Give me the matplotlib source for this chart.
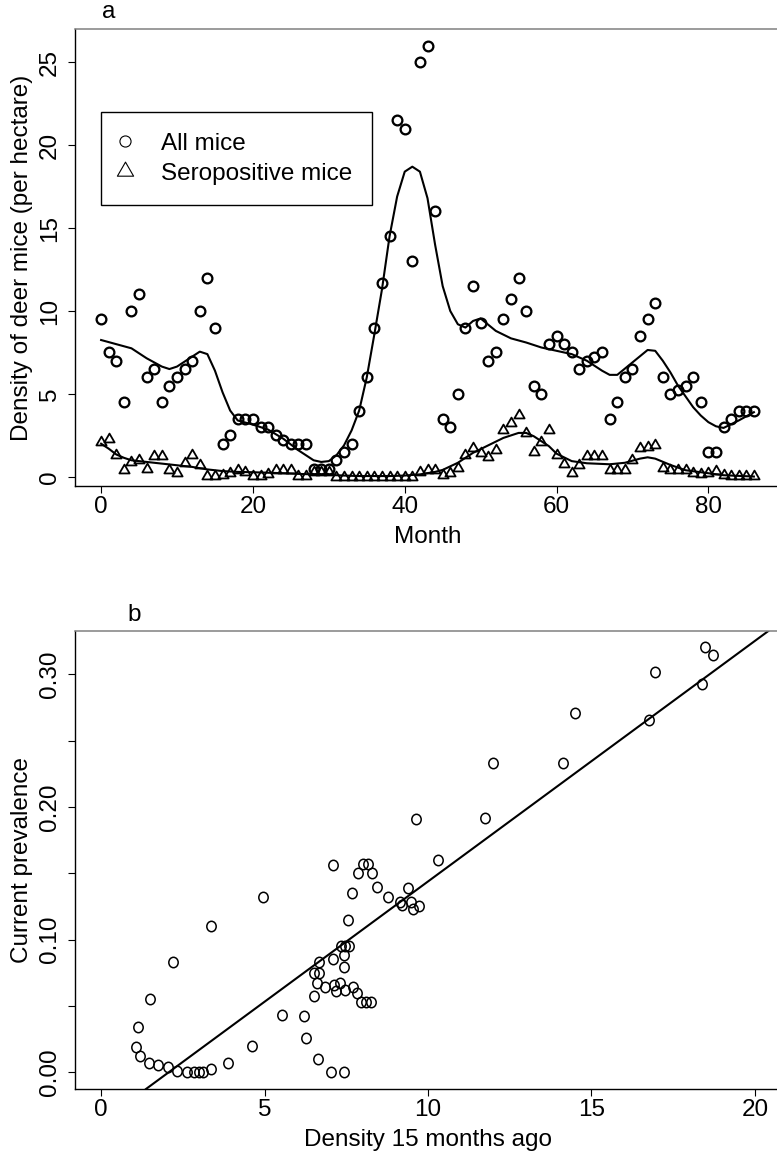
import matplotlib
matplotlib.use('Agg')
import matplotlib.pyplot as plt
from matplotlib.lines import Line2D
from matplotlib.path import Path
from matplotlib.transforms import Affine2D
import numpy as np

plt.rcParams['font.family'] = ['Liberation Sans', 'DejaVu Sans']
FS = 17.5

# ---------------- Panel a data ----------------
months = list(range(87))
all_mice = [9.5, 7.5, 7.0, 4.5, 10.0, 11.0, 6.0, 6.5, 4.5, 5.5,
            6.0, 6.5, 7.0, 10.0, 12.0, 9.0, 2.0, 2.5, 3.5, 3.5,
            3.5, 3.0, 3.0, 2.5, 2.2, 2.0, 2.0, 2.0, 0.5, 0.5,
            0.5, 1.0, 1.5, 2.0, 4.0, 6.0, 9.0, 11.7, 14.5, 21.5,
            21.0, 13.0, 25.0, 26.0, 16.0, 3.5, 3.0, 5.0, 9.0, 11.5,
            9.25, 7.0, 7.5, 9.5, 10.75, 12.0, 10.0, 5.5, 5.0, 8.0,
            8.5, 8.0, 7.5, 6.5, 7.0, 7.25, 7.5, 3.5, 4.5, 6.0,
            6.5, 8.5, 9.5, 10.5, 6.0, 5.0, 5.25, 5.5, 6.0, 4.5,
            1.5, 1.5, 3.0, 3.5, 4.0, 4.0, 4.0]
seropositive = [2.1, 2.3, 1.33, 0.4, 0.9, 1.0, 0.5, 1.27, 1.27, 0.42,
                0.26, 0.82, 1.33, 0.72, 0.06, 0.06, 0.12, 0.26, 0.42, 0.3,
                0.06, 0.06, 0.2, 0.4, 0.4, 0.4, 0.06, 0.06, 0.3, 0.3,
                0.3, 0.0, 0.0, 0.0, 0.0, 0.0, 0.0, 0.0, 0.0, 0.0,
                0.0, 0.0, 0.27, 0.4, 0.4, 0.1, 0.22, 0.52, 1.33, 1.73,
                1.46, 1.2, 1.6, 2.83, 3.23, 3.73, 2.63, 1.52, 2.13, 2.83,
                1.33, 0.76, 0.22, 0.72, 1.27, 1.27, 1.27, 0.42, 0.42, 0.42,
                1.02, 1.73, 1.83, 1.93, 0.52, 0.42, 0.42, 0.42, 0.22, 0.2,
                0.26, 0.38, 0.12, 0.06, 0.04, 0.04, 0.04]

smooth_all_month = [0, 2, 4, 6, 8, 9, 10, 12, 13, 14, 15, 16, 17, 18, 20, 22, 24, 26,
                    28, 29, 30, 31, 32, 33, 34, 35, 36, 37, 38, 39, 40, 41, 42, 43,
                    44, 45, 46, 47, 48, 49, 50, 52, 54, 56, 58, 60, 62, 64, 66, 67,
                    68, 70, 72, 73, 74, 75, 76, 77, 78, 79, 80, 81, 82, 84, 86]
smooth_all_value = [8.25, 8.0, 7.75, 7.15, 6.65, 6.5, 6.65, 7.25, 7.55, 7.4, 6.4, 5.1,
                    4.0, 3.4, 3.15, 2.85, 2.3, 1.6, 1.0, 0.9, 0.95, 1.3, 1.9, 2.8,
                    4.0, 6.0, 8.6, 11.3, 14.5, 16.9, 18.4, 18.7, 18.4, 16.8, 14.0,
                    11.5, 10.0, 9.2, 9.0, 9.4, 9.55, 8.8, 8.35, 8.1, 7.8, 7.6, 7.4,
                    7.0, 6.4, 6.15, 6.15, 6.9, 7.65, 7.6, 7.0, 6.3, 5.5, 4.85, 4.2,
                    3.7, 3.3, 3.05, 2.95, 3.4, 3.9]

smooth_sero_month = [0, 1, 2, 3, 4, 6, 8, 10, 12, 14, 16, 18, 20, 22, 24, 26, 28, 30,
                     32, 34, 36, 38, 40, 42, 44, 45, 47, 49, 51, 53, 55, 56, 57, 58,
                     59, 60, 62, 64, 67, 69, 71, 72, 73, 75, 77, 79, 82, 86]
smooth_sero_value = [2.0, 1.7, 1.35, 1.15, 1.0, 0.9, 0.8, 0.7, 0.6, 0.45, 0.35, 0.3,
                     0.28, 0.25, 0.22, 0.18, 0.15, 0.12, 0.08, 0.05, 0.05, 0.05, 0.08,
                     0.15, 0.3, 0.42, 0.85, 1.45, 1.9, 2.35, 2.65, 2.65, 2.45, 2.15,
                     1.85, 1.4, 0.95, 0.82, 0.76, 0.85, 1.1, 1.18, 1.1, 0.72, 0.4,
                     0.28, 0.1, 0.02]

# ---------------- Panel b data ----------------
density_15_ago = [1.06, 1.14, 1.19, 1.47, 1.50, 1.75, 2.04, 2.21, 2.33, 2.62,
                  2.85, 2.98, 3.11, 3.35, 3.35, 3.87, 4.62, 4.96, 5.53, 6.22,
                  6.26, 6.50, 6.50, 6.60, 6.62, 6.65, 6.65, 6.86, 7.03, 7.09,
                  7.11, 7.10, 7.20, 7.32, 7.34, 7.42, 7.44, 7.44, 7.47, 7.47,
                  7.54, 7.59, 7.69, 7.72, 7.82, 7.87, 7.95, 8.00, 8.10, 8.15,
                  8.26, 8.29, 8.44, 8.79, 9.13, 9.20, 9.40, 9.49, 9.54, 9.63,
                  9.71, 10.32, 11.75, 12.0, 14.14, 14.5, 16.77, 16.94, 18.37, 18.47,
                  18.71]
current_prevalence = [0.019, 0.034, 0.012, 0.007, 0.055, 0.005, 0.004, 0.083, 0.001, 0.0,
                      0.0, 0.0, 0.0, 0.002, 0.110, 0.007, 0.020, 0.132, 0.043, 0.042,
                      0.026, 0.057, 0.075, 0.067, 0.010, 0.083, 0.075, 0.064, 0.0, 0.085,
                      0.066, 0.156, 0.061, 0.067, 0.095, 0.088, 0.079, 0.0, 0.062, 0.095,
                      0.115, 0.095, 0.135, 0.064, 0.060, 0.150, 0.053, 0.157, 0.053, 0.157,
                      0.053, 0.150, 0.140, 0.132, 0.128, 0.126, 0.139, 0.128, 0.123, 0.191,
                      0.125, 0.160, 0.192, 0.233, 0.233, 0.271, 0.266, 0.302, 0.293, 0.321,
                      0.315]
fit_intercept = -0.0377
fit_slope = 0.01815

# ---------------- Layout ----------------
W, H = 777, 1154
fig = plt.figure(figsize=(W / 100, H / 100), dpi=100)


def px_rect(l, t, r, b):
    return [l / W, 1 - b / H, (r - l) / W, (b - t) / H]


axa = fig.add_axes(px_rect(75, 29, 780, 486))
axb = fig.add_axes(px_rect(75, 631, 781, 1089))

tri = Path([(-1, -0.577), (1, -0.577), (0, 1.155), (-1, -0.577)],
           [Path.MOVETO, Path.LINETO, Path.LINETO, Path.CLOSEPOLY])
ell = Path.unit_circle().transformed(Affine2D().scale(0.9, 1.0))


def style_axes(ax):
    for s in ('left', 'bottom'):
        ax.spines[s].set_linewidth(1.0)
        ax.spines[s].set_color('black')
    ax.spines['top'].set_color('#808080')
    ax.spines['top'].set_linewidth(1.1)
    ax.spines['right'].set_visible(False)
    ax.tick_params(axis='both', direction='out', length=5, width=0.8,
                   labelsize=FS, color='black')
    ax.tick_params(axis='x', pad=2.5)
    ax.tick_params(axis='y', pad=5, labelrotation=90)
    for lbl in ax.get_yticklabels():
        lbl.set_verticalalignment('center')


# Panel a
axa.plot(months, all_mice, ls='none', marker='o', ms=7, mfc='none',
         mec='black', mew=1.65, clip_on=False)
axa.plot(months, seropositive, ls='none', marker=tri, ms=8.5, mfc='none',
         mec='black', mew=1.3, clip_on=False)
axa.plot(smooth_all_month, smooth_all_value, color='black', lw=1.5)
axa.plot(smooth_sero_month, smooth_sero_value, color='black', lw=1.5)
axa.set_xlim(-3.44, 89.44)
axa.set_ylim(-0.55, 27.0)
axa.set_xticks([0, 20, 40, 60, 80])
axa.set_yticks([0, 5, 10, 15, 20, 25])
style_axes(axa)
axa.set_xlabel('Month', fontsize=FS)
axa.xaxis.set_label_coords(0.5, -0.088)
axa.set_ylabel('Density of deer mice (per hectare)', fontsize=FS)
axa.yaxis.set_label_coords(-0.060, 0.5)
axa.text(0.038, 1.024, 'a', transform=axa.transAxes, fontsize=FS,
         ha='left', va='baseline')

h1 = Line2D([], [], ls='none', marker='o', ms=8, mfc='none', mec='black', mew=0.8)
h2 = Line2D([], [], ls='none', marker=tri, ms=13.5, mfc='none', mec='black', mew=0.8)
leg = axa.legend([h1, h2], ['All mice', 'Seropositive mice'], loc='upper left',
                 bbox_to_anchor=((101 - 75) / 705, (486 - 112) / 457),
                 borderaxespad=0, fontsize=FS, frameon=True, fancybox=False,
                 edgecolor='black', framealpha=1, borderpad=0.85,
                 handlelength=0.3, handletextpad=1.3, labelspacing=0.33,
                 numpoints=1)
leg.get_frame().set_linewidth(1.0)

# Panel b
axb.plot(density_15_ago, current_prevalence, ls='none', marker=ell, ms=7.5,
         mfc='none', mec='black', mew=1.1)
axb.axline((0, fit_intercept), slope=fit_slope, color='black', lw=1.5)
axb.set_xlim(-0.8, 20.8)
axb.set_ylim(-0.0128, 0.3328)
axb.set_xticks([0, 5, 10, 15, 20])
yt = [0.0, 0.05, 0.10, 0.15, 0.20, 0.25, 0.30]
axb.set_yticks(yt)
axb.set_yticklabels(['%.2f' % v if i % 2 == 0 else '' for i, v in enumerate(yt)])
style_axes(axb)
axb.set_xlabel('Density 15 months ago', fontsize=FS)
axb.xaxis.set_label_coords(0.5, -0.088)
axb.set_ylabel('Current prevalence', fontsize=FS)
axb.yaxis.set_label_coords(-0.060, 0.5)
axb.text(0.074, 1.0218, 'b', transform=axb.transAxes, fontsize=FS,
         ha='left', va='baseline')

fig.savefig('out.png', dpi=100)
